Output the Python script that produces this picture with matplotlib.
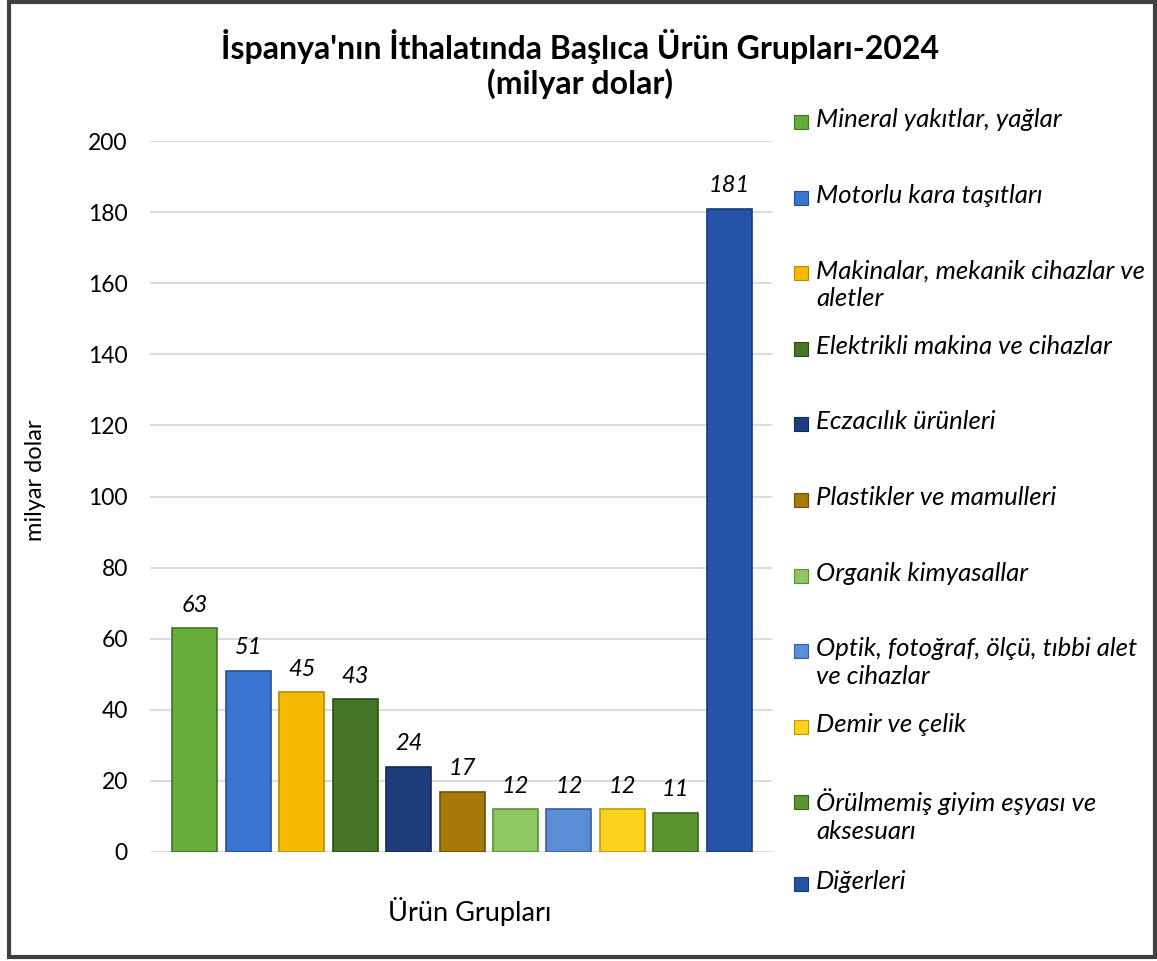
import matplotlib.pyplot as plt
from matplotlib.patches import Rectangle

categories = [
    "Mineral yakıtlar, yağlar",
    "Motorlu kara taşıtları",
    "Makinalar, mekanik cihazlar ve\naletler",
    "Elektrikli makina ve cihazlar",
    "Eczacılık ürünleri",
    "Plastikler ve mamulleri",
    "Organik kimyasallar",
    "Optik, fotoğraf, ölçü, tıbbi alet\nve cihazlar",
    "Demir ve çelik",
    "Örülmemiş giyim eşyası ve\naksesuarı",
    "Diğerleri",
]
values = [63, 51, 45, 43, 24, 17, 12, 12, 12, 11, 181]
colors = ["#66ad3a", "#3b75d3", "#f5bb00", "#46752a", "#1e3e7b", "#a67a08",
          "#8cc862", "#5b8dd6", "#fdd21c", "#5a9532", "#2553a6"]
edges = ["#3f7420", "#234f9a", "#b88a00", "#2c4d19", "#122a57", "#6f5104",
         "#5c8e3a", "#365f9f", "#c09a00", "#386420", "#163a7a"]
y_ticks = [0, 20, 40, 60, 80, 100, 120, 140, 160, 180, 200]

plt.rcParams['font.family'] = ['Lato', 'DejaVu Sans']

W, H = 1157, 961
fig = plt.figure(figsize=(W / 100, H / 100), dpi=100)
ax = fig.add_axes([150 / W, (H - 852) / H, 622 / W, 711 / H])

x = list(range(len(values)))
ax.bar(x, values, width=0.84, color=colors, edgecolor=edges, linewidth=1.2, zorder=3)
for xi, v in zip(x, values):
    ax.text(xi, v + 3.5, str(v), ha='center', va='bottom', fontsize=17,
            style='italic', color='black')

ax.set_xlim(-0.84, 10.8)
ax.set_ylim(0, 200)
ax.set_yticks(y_ticks)
ax.set_yticklabels([str(t) for t in y_ticks], fontsize=16.5, color='black')
ax.set_xticks([])
ax.tick_params(axis='y', length=0, pad=16)
ax.grid(axis='y', color='#d9d9d9', linewidth=1.3, zorder=0)
for s in ax.spines.values():
    s.set_visible(False)

fig.text(35 / W, 1 - 480 / H, 'milyar dolar', ha='center', va='center',
         rotation=90, fontsize=17)
fig.text(470 / W, 1 - 912 / H, 'Ürün Grupları', ha='center', va='center', fontsize=19.5)

fig.text(580 / W, 1 - 47 / H, "İspanya'nın İthalatında Başlıca Ürün Grupları-2024",
         ha='center', va='center', fontsize=23, fontweight='bold')
fig.text(580 / W, 1 - 84 / H, "(milyar dolar)", ha='center', va='center',
         fontsize=23, fontweight='bold')

# legend drawn by hand to keep the Excel-like even spacing
top = 108
step = 75.6
for i, (lab, c, e) in enumerate(zip(categories, colors, edges)):
    yt = top + i * step + (6 if i == len(categories) - 1 else 0)
    fig.patches.append(Rectangle((794 / W, 1 - (yt + 21) / H), 14 / W, 14 / H,
                                 transform=fig.transFigure, facecolor=c,
                                 edgecolor=e, linewidth=0.8))
    fig.text(816 / W, 1 - yt / H, lab, ha='left', va='top', fontsize=18.5,
             style='italic', linespacing=1.25)

fig.patches.append(Rectangle((9 / W, 4 / H), 1146 / W, 955 / H,
                             transform=fig.transFigure, fill=False,
                             edgecolor='#404040', linewidth=3))

fig.savefig('out.png', dpi=100)
